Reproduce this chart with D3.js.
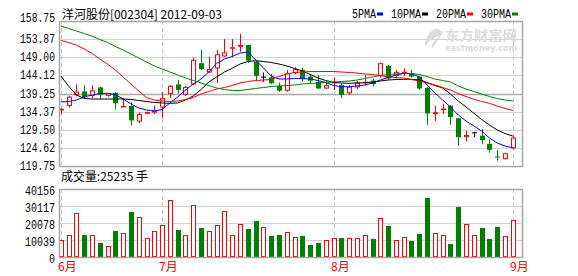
<!DOCTYPE html>
<meta charset="utf-8">
<script src="https://d3js.org/d3.v7.min.js"></script>
<style>body{margin:0;background:#fff}</style>
<svg id="chart" width="578" height="276"></svg>
<script>

// category / tick data
var months = ["6月", "7月", "8月", "9月"];
var monthIdx = [0, 13, 35, 58];
var priceTicks = [158.75, 153.87, 149.00, 144.12, 139.25, 134.37, 129.50, 124.62, 119.75];
var volTicks = [40156, 30117, 20078, 10039, 0];
var maNames = ["5PMA", "10PMA", "20PMA", "30PMA"];

// daily K line
var open  = [134.7,135.9,138.8,139.8,138.6,140.9,138.6,139.4,135.8,135.9,131.7,133.8,134.1,135.5,139.1,141.7,138.9,141.7,147.4,144.9,146.0,149.2,151.6,151.8,152.3,147.8,143.8,143.6,141.3,140.0,144.7,145.6,143.8,142.4,140.6,142.3,141.5,139.3,140.9,142.3,142.7,144.0,146.7,144.0,145.0,144.7,143.8,140.8,133.7,134.9,136.0,132.6,127.5,128.8,127.9,125.7,122.3,121.6,124.5];
var high  = [135.4,138.6,141.7,141.4,141.5,141.1,139.4,139.6,138.0,136.9,134.2,134.4,136.0,139.6,141.5,142.9,141.3,148.9,151.0,149.2,151.0,153.9,153.9,155.3,152.3,147.8,144.9,144.5,142.2,145.6,146.3,146.2,144.4,144.2,142.5,143.6,142.0,141.5,142.7,144.2,143.2,147.6,146.9,145.6,146.0,145.6,143.9,141.0,136.0,136.4,136.1,132.7,129.3,128.8,129.7,126.9,124.0,123.3,127.9];
var low   = [133.7,135.5,138.5,138.0,138.0,137.7,138.4,135.0,135.7,130.6,131.2,133.7,133.7,132.6,138.1,139.3,138.6,141.5,145.6,144.7,142.0,149.1,149.0,150.5,147.5,142.9,142.4,141.8,139.7,139.7,144.4,142.4,142.0,140.5,140.5,140.2,138.0,138.9,140.5,141.5,141.2,143.5,143.0,143.3,144.0,143.5,140.2,130.8,131.9,133.7,130.8,125.2,126.3,127.5,125.6,123.3,121.2,121.5,124.2];
var close = [135.1,138.4,139.8,138.3,140.1,138.9,139.3,136.6,135.9,132.0,133.7,134.3,134.7,138.0,141.3,140.2,141.0,148.3,145.8,145.8,149.8,150.3,151.7,152.3,148.1,144.0,143.8,142.0,140.0,144.7,145.8,143.1,142.7,140.6,141.5,142.4,138.9,141.1,142.2,142.4,141.8,147.4,143.3,145.0,145.1,143.8,140.6,133.9,134.2,135.2,132.9,127.5,128.1,128.8,126.7,124.1,122.2,123.2,127.4];
var volume = [9860,12814,25805,12814,12814,8267,6318,15353,13995,26573,23443,11042,15176,18719,33481,15944,12814,30529,17125,15176,18719,26986,12814,19309,16534,21258,17538,12400,12991,14585,11810,12400,7086,8267,9860,11220,11220,11220,11220,12814,10629,23030,18306,9860,11810,9448,13582,34840,14172,12991,7677,29525,19487,12991,17302,10806,17715,12400,21849];

// moving averages as drawn
var ma5  = [136.96,137.10,137.50,138.31,138.85,139.25,139.30,138.98,137.77,136.43,135.35,134.81,134.54,134.95,136.70,138.31,140.19,141.81,143.15,145.03,147.32,148.53,149.20,150.14,150.41,148.26,146.11,143.96,143.15,143.15,143.28,143.28,143.15,142.75,142.21,141.40,141.08,141.08,141.27,141.54,142.07,142.88,143.55,144.23,144.63,144.63,143.69,141.54,139.38,137.50,135.62,133.47,131.85,130.51,129.16,127.28,125.94,125.13,124.67];
var ma10 = [143.96,141.27,138.85,137.91,137.77,137.77,137.77,137.77,137.77,137.64,137.37,137.10,136.83,136.70,136.61,136.70,137.50,138.58,140.33,142.34,143.69,145.03,146.03,147.18,147.86,148.07,147.86,147.59,147.18,146.65,145.97,145.30,144.36,143.42,142.75,142.21,142.07,141.99,142.07,142.15,142.34,142.61,142.88,143.01,143.07,143.07,142.88,142.21,141.40,140.73,139.12,137.23,135.62,133.93,132.26,130.78,129.43,128.49,127.82];
var ma20 = [153.51,152.97,152.29,151.22,150.01,148.53,147.18,145.57,143.69,141.81,139.92,138.17,137.50,137.23,137.10,137.23,137.64,138.17,139.12,139.79,140.46,140.86,141.40,142.07,142.48,142.75,142.88,143.01,143.82,144.50,144.90,145.03,145.17,145.17,145.17,145.17,145.03,144.90,144.76,144.50,144.36,144.09,143.69,143.55,143.42,143.01,142.61,142.07,141.54,140.86,140.19,139.25,138.44,137.69,137.10,136.61,135.89,135.22,134.68];
var ma30 = [157.41,156.73,156.06,155.39,154.72,153.77,152.97,151.89,150.95,149.87,148.80,147.72,146.65,145.84,145.03,144.23,143.42,142.75,142.07,141.40,140.73,140.33,140.06,140.06,140.33,140.60,140.86,141.13,141.27,141.40,141.54,141.81,141.94,142.07,142.21,142.34,142.48,142.61,142.88,143.28,143.69,144.09,144.36,144.50,144.63,144.63,144.36,143.82,143.15,142.75,142.34,141.27,140.46,139.79,139.12,138.44,137.91,137.50,137.23];

var maData = [ma5, ma10, ma20, ma30];
var maColors = ["#0000ff", "#000000", "#ff0000", "#008000"];
var upColor = "#ff0000", downColor = "#008000";

var svg = d3.select("#chart");
var left = 59, right = 522, pTop = 21, pBottom = 166, vTop = 189, vBottom = 257;
var mono = "'Liberation Mono', 'DejaVu Sans Mono', monospace";
var cjk = "'Noto Sans CJK SC', sans-serif";

var x = d3.scaleLinear().domain([0, close.length - 1]).range([60.8, 512.8]);
var yP = d3.scaleLinear().domain([119.75, 158.75]).range([pBottom, pTop]);
var yV = d3.scaleLinear().domain([0, 40156]).range([vBottom, vTop]);
var cx = function(i) { return Math.round(x(i)); };

svg.append("rect").attr("width", 578).attr("height", 276).attr("fill", "#fff");

// grid lines
svg.append("g").selectAll("line")
  .data(priceTicks)
  .enter().append("line")
    .attr("x1", left).attr("x2", right)
    .attr("y1", function(d) { return Math.round(yP(d)) + 0.5; })
    .attr("y2", function(d) { return Math.round(yP(d)) + 0.5; })
    .attr("stroke", function(d, i) { return i == 4 ? "#a8a8a8" : "#d2d2d2"; })
    .attr("stroke-width", function(d, i) { return i == 4 ? 1.5 : 1; });

svg.append("g").selectAll("line")
  .data(volTicks)
  .enter().append("line")
    .attr("x1", left).attr("x2", right)
    .attr("y1", function(d) { return Math.round(yV(d)) + 0.5; })
    .attr("y2", function(d) { return Math.round(yV(d)) + 0.5; })
    .attr("stroke", "#d2d2d2");

// month dashes
[[pTop, pBottom], [vTop, vBottom]].forEach(function(r) {
  svg.append("g").selectAll("line")
    .data(monthIdx)
    .enter().append("line")
      .attr("x1", function(d) { return cx(d) + 0.5; })
      .attr("x2", function(d) { return cx(d) + 0.5; })
      .attr("y1", r[0]).attr("y2", r[1])
      .attr("stroke", "#c4c4c4")
      .attr("stroke-dasharray", "4,3");
});

// watermark
var wm = svg.append("g").attr("fill", "#dcdcdc").attr("font-weight", "bold");
wm.append("path")
  .attr("d", "M436,28 C428,33 424,40 425,47 C428,42 432,38 440,36 C434,40 431,44 432,49 C436,42 440,38 443,32 Z");
wm.append("text").attr("x", 445).attr("y", 40)
  .attr("font-family", cjk).attr("font-size", 13)
  .attr("textLength", 72).attr("lengthAdjust", "spacingAndGlyphs")
  .text("东方财富网");
wm.append("text").attr("x", 445).attr("y", 50.5)
  .attr("font-family", "'DejaVu Sans', sans-serif").attr("font-size", 8)
  .attr("textLength", 72).attr("lengthAdjust", "spacingAndGlyphs")
  .text("eastmoney.com");

function colorOf(i) {
  if (close[i] > open[i]) return upColor;
  if (close[i] < open[i]) return downColor;
  return "#000000";
}

// candles
var idx = d3.range(close.length);
var candles = svg.append("g").selectAll("g")
  .data(idx)
  .enter().append("g");

candles.append("line")
  .attr("x1", function(i) { return cx(i) + 0.5; })
  .attr("x2", function(i) { return cx(i) + 0.5; })
  .attr("y1", function(i) { return yP(high[i]); })
  .attr("y2", function(i) { return yP(low[i]); })
  .attr("stroke", colorOf);

candles.append("rect")
  .attr("x", function(i) { return close[i] > open[i] ? cx(i) - 1.5 : cx(i) - 2; })
  .attr("width", function(i) { return close[i] > open[i] ? 4 : 5; })
  .attr("y", function(i) {
    var t = yP(Math.max(open[i], close[i]));
    return close[i] > open[i] ? t + 0.5 : t;
  })
  .attr("height", function(i) {
    var h = Math.abs(yP(open[i]) - yP(close[i]));
    return close[i] > open[i] ? Math.max(h - 1, 0.5) : Math.max(h, 1);
  })
  .attr("fill", function(i) { return close[i] > open[i] ? "#fff" : colorOf(i); })
  .attr("stroke", function(i) { return close[i] > open[i] ? upColor : "none"; });

// moving average lines
maData.forEach(function(arr, k) {
  svg.append("path")
    .datum(arr)
    .attr("fill", "none")
    .attr("stroke", maColors[k])
    .attr("stroke-width", 1)
    .attr("d", d3.line()
      .x(function(d, i) { return x(i); })
      .y(function(d) { return yP(d); }));
});

// volume bars
svg.append("g").selectAll("rect")
  .data(idx)
  .enter().append("rect")
    .attr("x", function(i) { return close[i] >= open[i] ? cx(i) - 1.5 : cx(i) - 2; })
    .attr("width", function(i) { return close[i] >= open[i] ? 4 : 5; })
    .attr("y", function(i) { return close[i] >= open[i] ? Math.round(yV(volume[i])) + 0.5 : Math.round(yV(volume[i])); })
    .attr("height", function(i) {
      var h = vBottom - Math.round(yV(volume[i]));
      return close[i] >= open[i] ? h - 1 : h;
    })
    .attr("fill", function(i) { return close[i] >= open[i] ? "#fff" : downColor; })
    .attr("stroke", function(i) { return close[i] >= open[i] ? upColor : "none"; });

// panel frames
[[pTop, pBottom], [vTop, vBottom]].forEach(function(r) {
  svg.append("rect")
    .attr("x", left + 0.5).attr("y", r[0] + 0.5)
    .attr("width", right - left).attr("height", r[1] - r[0])
    .attr("fill", "none").attr("stroke", "#a6a6a6").attr("stroke-width", 1.5);
});

// axis labels
svg.append("g").selectAll("text")
  .data(priceTicks)
  .enter().append("text")
    .attr("x", 55).attr("text-anchor", "end")
    .attr("y", function(d, i) { return yP(d) + (i == 0 ? 1 : 4); })
    .attr("font-family", mono).attr("font-size", 12)
    .attr("textLength", 35).attr("lengthAdjust", "spacingAndGlyphs")
    .text(function(d) { return d.toFixed(2); });

svg.append("g").selectAll("text")
  .data(volTicks)
  .enter().append("text")
    .attr("x", 55).attr("text-anchor", "end")
    .attr("y", function(d) { return yV(d) + 6; })
    .attr("font-family", mono).attr("font-size", 12)
    .attr("textLength", function(d) { return String(d).length * 6; })
    .attr("lengthAdjust", "spacingAndGlyphs")
    .text(function(d) { return d; });

svg.append("g").selectAll("text")
  .data(months)
  .enter().append("text")
    .attr("x", function(d, i) { return cx(monthIdx[i]) - 3; })
    .attr("y", 271)
    .attr("font-family", cjk).attr("font-size", 12)
    .attr("fill", "#ff0000")
    .text(function(d) { return d; });

// title, volume caption, legend
svg.append("text").attr("x", 62).attr("y", 18.5)
  .attr("font-family", cjk).attr("font-size", 12)
  .attr("textLength", 160).attr("lengthAdjust", "spacingAndGlyphs")
  .text("洋河股份[002304] 2012-09-03");

svg.append("text").attr("x", 61).attr("y", 181)
  .attr("font-family", cjk).attr("font-size", 12)
  .attr("textLength", 87).attr("lengthAdjust", "spacingAndGlyphs")
  .text("成交量:25235 手");

var lx = 352;
maNames.forEach(function(name, k) {
  var w = name.length * 6;
  svg.append("text").attr("x", lx).attr("y", 18)
    .attr("font-family", mono).attr("font-size", 12)
    .attr("textLength", w).attr("lengthAdjust", "spacingAndGlyphs")
    .text(name);
  svg.append("rect").attr("x", lx + w + 1).attr("y", 12.5)
    .attr("width", 6).attr("height", 3)
    .attr("fill", maColors[k]);
  lx += w + 15;
});

</script>
